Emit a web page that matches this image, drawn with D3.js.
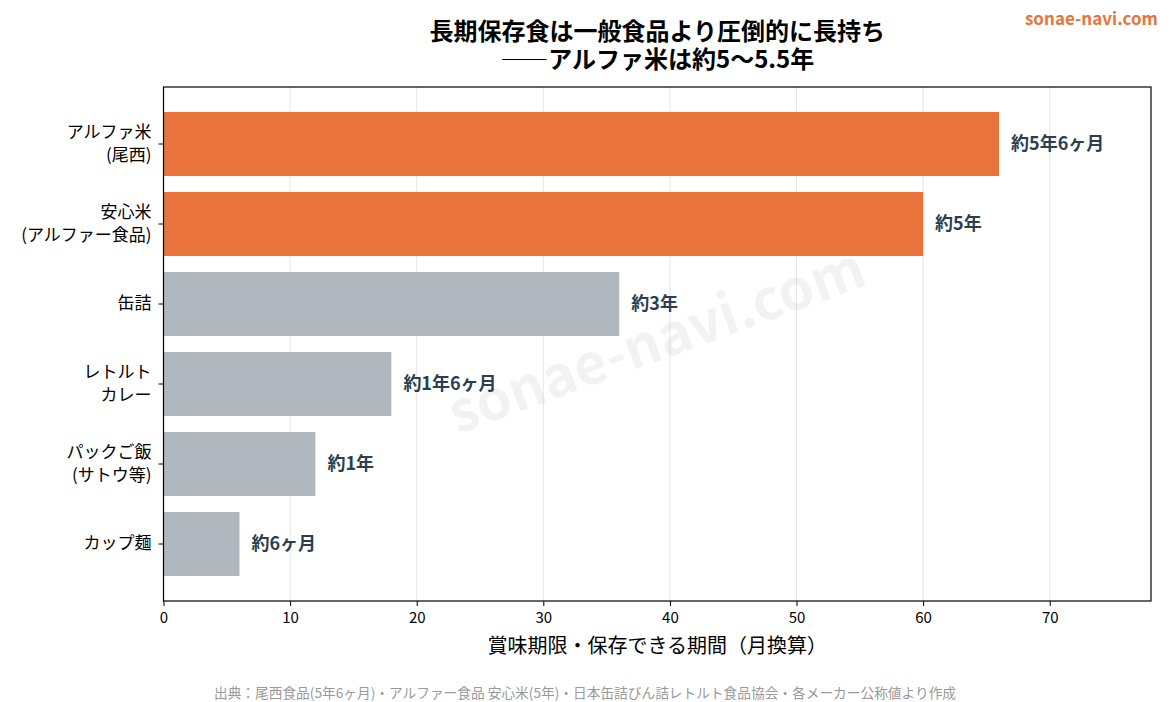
<!DOCTYPE html>
<html>
<head>
<meta charset="utf-8">
<script src="https://cdn.jsdelivr.net/npm/d3@7"></script>
<style>
  body { margin: 0; background: #fff; }
  svg { display: block; font-family: "Noto Sans CJK JP", "Noto Sans", sans-serif; }
</style>
</head>
<body>
<svg id="chart" width="1170" height="702"></svg>
<script>
const categories = ['アルファ米\n(尾西)', '安心米\n(アルファー食品)', '缶詰', 'レトルト\nカレー', 'パックご飯\n(サトウ等)', 'カップ麺']
const months = [66, 60, 36, 18, 12, 6]
const valueLabels = ['約5年6ヶ月', '約5年', '約3年', '約1年6ヶ月', '約1年', '約6ヶ月']
const highlight = [true, true, false, false, false, false]
const xTicks = [0, 10, 20, 30, 40, 50, 60, 70]

const margin = { top: 87, right: 19, bottom: 101, left: 163.5 }
const W = 1170, H = 702
const innerW = W - margin.left - margin.right
const innerH = H - margin.top - margin.bottom

const svg = d3.select('#chart')

const x = d3.scaleLinear().domain([0, 78]).range([0, innerW])
const y = d3.scaleBand().domain(categories).range([9, innerH - 9]).paddingInner(0.2).paddingOuter(0.2)

const g = svg.append('g').attr('transform', `translate(${margin.left},${margin.top})`)

// grid
g.append('g')
  .selectAll('line')
  .data(xTicks)
  .join('line')
  .attr('x1', d => x(d)).attr('x2', d => x(d))
  .attr('y1', 0).attr('y2', innerH)
  .attr('stroke', '#e6e6e6').attr('stroke-width', 1)

// watermark
svg.append('text')
  .attr('transform', 'translate(658,345) rotate(-20)')
  .attr('text-anchor', 'middle')
  .attr('dominant-baseline', 'middle')
  .attr('font-size', 56)
  .attr('font-weight', 'bold')
  .attr('fill', '#000')
  .attr('fill-opacity', 0.05)
  .text('sonae-navi.com')

// bars
g.selectAll('rect.bar')
  .data(categories)
  .join('rect')
  .attr('class', 'bar')
  .attr('x', x(0))
  .attr('y', d => y(d))
  .attr('width', (d, i) => x(months[i]) - x(0))
  .attr('height', y.bandwidth())
  .attr('fill', (d, i) => highlight[i] ? '#e8743b' : '#b0b7bf')

// value labels
g.selectAll('text.val')
  .data(categories)
  .join('text')
  .attr('class', 'val')
  .attr('x', (d, i) => x(months[i]) + 12)
  .attr('y', d => y(d) + y.bandwidth() / 2)
  .attr('dy', '0.35em')
  .attr('font-size', 18)
  .attr('font-weight', 'bold')
  .attr('fill', '#2c3e50')
  .text((d, i) => valueLabels[i])

// x axis
const xAxis = g.append('g')
  .attr('transform', `translate(0,${innerH})`)
  .call(d3.axisBottom(x).tickValues(xTicks).tickSize(5).tickPadding(6))
xAxis.select('.domain').remove()
xAxis.selectAll('text').attr('font-size', 15).attr('fill', '#000').style('font-family', '"Noto Sans CJK JP", sans-serif')
xAxis.selectAll('line').attr('stroke', '#000')

// y axis
const yAxis = g.append('g')
  .call(d3.axisLeft(y).tickSize(5).tickPadding(7))
yAxis.select('.domain').remove()
yAxis.selectAll('line').attr('stroke', '#000')
yAxis.selectAll('text').each(function (d) {
  const t = d3.select(this)
  const lines = d.split('\n')
  t.text(null)
    .attr('font-size', 17)
    .attr('fill', '#000')
    .style('font-family', '"Noto Sans CJK JP", sans-serif')
  lines.forEach((ln, k) => {
    t.append('tspan')
      .attr('x', -12)
      .attr('dy', k === 0 ? `${0.32 - (lines.length - 1) * 0.65}em` : '1.3em')
      .text(ln)
  })
})

// frame
g.append('rect')
  .attr('width', innerW).attr('height', innerH)
  .attr('fill', 'none').attr('stroke', '#000').attr('stroke-width', 1.2)

// axis title
svg.append('text')
  .attr('x', margin.left + innerW / 2)
  .attr('y', 653)
  .attr('text-anchor', 'middle')
  .attr('font-size', 20)
  .attr('fill', '#000')
  .text('賞味期限・保存できる期間（月換算）')

// title
const title = svg.append('text')
  .attr('text-anchor', 'middle')
  .attr('font-size', 24)
  .attr('font-weight', 'bold')
  .attr('fill', '#000')
title.append('tspan').attr('x', margin.left + innerW / 2).attr('y', 40).text('長期保存食は一般食品より圧倒的に長持ち')
title.append('tspan').attr('x', margin.left + innerW / 2).attr('y', 68).text('――アルファ米は約5〜5.5年')

// brand
svg.append('text')
  .attr('x', 1158).attr('y', 25)
  .attr('text-anchor', 'end')
  .attr('font-size', 17)
  .attr('font-weight', 'bold')
  .attr('fill', '#e8743b')
  .text('sonae-navi.com')

// source
svg.append('text')
  .attr('x', 585).attr('y', 698)
  .attr('text-anchor', 'middle')
  .attr('font-size', 13.7)
  .attr('fill', '#999')
  .text('出典：尾西食品(5年6ヶ月)・アルファー食品 安心米(5年)・日本缶詰びん詰レトルト食品協会・各メーカー公称値より作成')
</script>
</body>
</html>
